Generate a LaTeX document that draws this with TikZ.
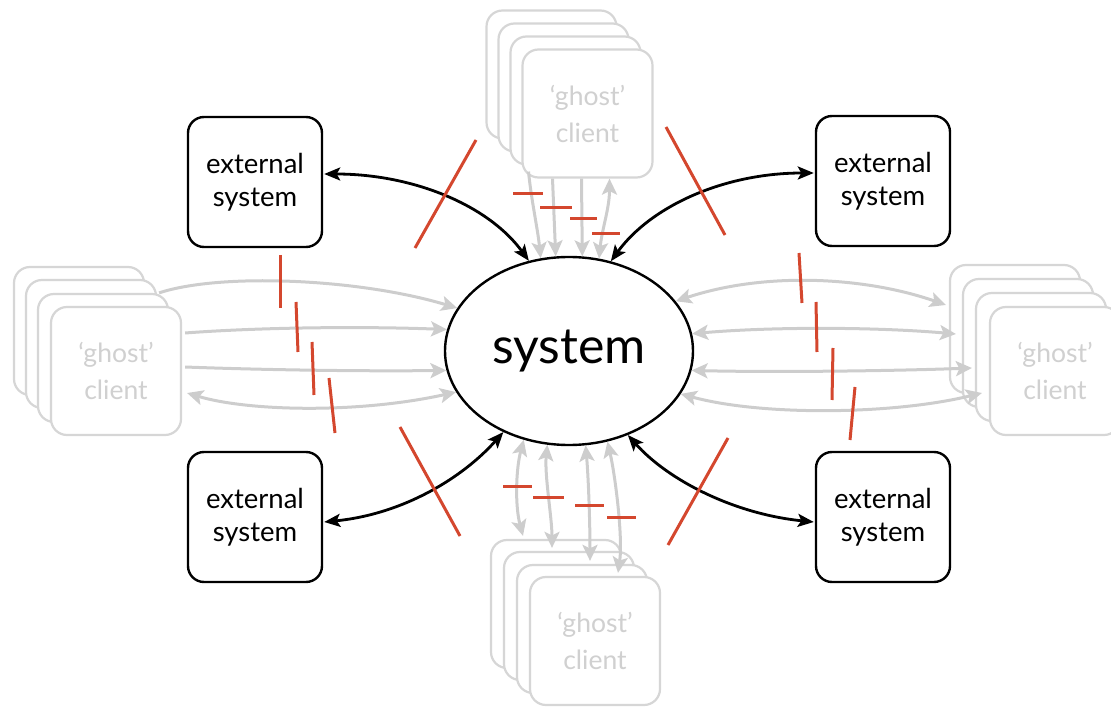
\documentclass[tikz,border=0pt]{standalone}
\usepackage{fontspec}
\newfontfamily\labelfont{Lato}
\usetikzlibrary{shapes.geometric,arrows.meta,calc}
\definecolor{ghostline}{HTML}{D6D6D6}
\definecolor{ghostarrow}{HTML}{CDCDCD}
\definecolor{ghosttext}{HTML}{D0D0D0}
\definecolor{cutred}{HTML}{D4472E}
\tikzset{
  gtip/.tip={Stealth[length=16pt,width=15pt,inset=3.5pt]},
  ktip/.tip={Stealth[length=16pt,width=13pt,inset=3.5pt]},
  ext/.style={draw=black,line width=2.4pt,rounded corners=16pt,fill=white,
    minimum width=134pt,minimum height=130pt,inner sep=0pt,align=center,
    font=\labelfont\fontsize{27.5}{33}\selectfont},
  ghostbox/.style={draw=ghostline,line width=2.2pt,rounded corners=16pt,fill=white,
    minimum width=130pt,minimum height=128pt,inner sep=0pt,align=center,
    text=ghosttext,font=\labelfont\fontsize{26.5}{37}\selectfont},
  sysnode/.style={ellipse,draw=black,line width=2.4pt,fill=white,
    minimum width=248pt,minimum height=188pt,inner sep=0pt,
    font=\labelfont\fontsize{50}{50}\selectfont},
  garrow/.style={draw=ghostarrow,line width=3pt,-gtip},
  gboth/.style={draw=ghostarrow,line width=3pt,gtip-gtip},
  karrow/.style={draw=black,line width=2.8pt,ktip-ktip},
  cut/.style={draw=cutred,line width=3pt}
}
\begin{document}
\begin{tikzpicture}[x=1pt,y=-1pt]
\useasboundingbox (0,0) rectangle (1111,708);

% ghost client stacks (back to front)
\node[ghostbox] (gT1) at (551.5,74.5) {};
\node[ghostbox] (gT2) at (563.5,87.5) {};
\node[ghostbox] (gT3) at (575.5,100.5) {};
\node[ghostbox] (gT4) at (587.5,113.5) {‘ghost’\\client};

\node[ghostbox] (gL1) at (79,331) {};
\node[ghostbox] (gL2) at (91,344) {};
\node[ghostbox] (gL3) at (103,358) {};
\node[ghostbox] (gL4) at (116,371) {‘ghost’\\client};

\node[ghostbox] (gR1) at (1015,329) {};
\node[ghostbox] (gR2) at (1028,343) {};
\node[ghostbox] (gR3) at (1041,357) {};
\node[ghostbox] (gR4) at (1055,371) {‘ghost’\\client};

\node[ghostbox] (gB1) at (556,604) {};
\node[ghostbox] (gB2) at (569,616) {};
\node[ghostbox] (gB3) at (582,629) {};
\node[ghostbox] (gB4) at (595,641) {‘ghost’\\client};

% external systems
\node[ext] (tl) at (255,182) {external\\system};
\node[ext] (tr) at (883,181) {external\\system};
\node[ext] (bl) at (255,517) {external\\system};
\node[ext] (br) at (883,517) {external\\system};

% the system
\node[sysnode] (sys) at (569,351) {system};

% ghost traffic from above
\draw[garrow] ($(gT4.south)+(-59,-7)$) .. controls +(3,30) and +(-3,-30) .. (sys.107.6);
\draw[garrow] ($(gT4.south)+(-35,0)$) -- (sys.98.4);
\draw[garrow] ($(gT4.south)+(-6,0)$) -- (sys.82.7);
\draw[gboth] ($(gT4.south)+(22,0)$) .. controls +(0,30) and +(3,-30) .. (sys.72);

% ghost traffic from the left
\draw[garrow] ($(gL3.north east)+(-10,0)$) .. controls +(60,-20) and +(-100,-30) .. (sys.159.7);
\draw[garrow] ($(gL4.east)+(3,-38)$) .. controls +(80,-6) and +(-80,-3) .. (sys.170.8);
\draw[garrow] ($(gL4.east)+(3,-4)$) .. controls +(80,3) and +(-80,1) .. (sys.189.5);
\draw[gboth] ($(gL4.east)+(5,22)$) .. controls +(60,18) and +(-100,22) .. (sys.200.3);

% ghost traffic to the right
\draw[gboth] (sys.25.9) .. controls +(90,-30) and +(-80,-28) .. ($(gR1.west)+(-3,-24)$);
\draw[gboth] (sys.8.4) .. controls +(80,-7) and +(-80,-7) .. ($(gR2.west)+(-6,-9)$);
\draw[gboth] (sys.-9.9) .. controls +(80,2) and +(-80,3) .. ($(gR3.west)+(-3,11)$);
\draw[gboth] (sys.-21.1) .. controls +(80,22) and +(-90,22) .. ($(gR4.west)+(-7,22)$);

% ghost traffic below
\draw[gboth] (sys.243.9) .. controls +(-8,30) and +(-8,-30) .. ($(gB1.north)+(-33,-3)$);
\draw[gboth] (sys.257.1) .. controls +(-3,30) and +(0,-30) .. ($(gB2.north)+(-17,-3)$);
\draw[gboth] (sys.280.6) .. controls +(3,35) and +(0,-35) .. ($(gB3.north)+(8,-3)$);
\draw[gboth] (sys.293.1) .. controls +(8,35) and +(5,-35) .. ($(gB4.north)+(23,-3)$);

% links to the external systems
\draw[karrow] ($(tl.east)+(1,-8)$) .. controls +(90,0) and +(-40,-55) .. (sys.114);
\draw[karrow] (sys.65) .. controls +(40,-55) and +(-90,0) .. ($(tr.west)+(-1,-8)$);
\draw[karrow] (sys.231.6) .. controls +(-40,45) and +(80,-8) .. ($(bl.east)+(1,5)$);
\draw[karrow] (sys.305) .. controls +(40,45) and +(-80,-8) .. ($(br.west)+(-1,5)$);

% cut marks
\draw[cut] (476,140) -- (415,248);
\draw[cut] (666,127) -- (725,235);
\draw[cut] (400,427) -- (460,536);
\draw[cut] (728,438) -- (668,545);

\draw[cut] (513,194) -- (543,194);
\draw[cut] (540,208) -- (572,208);
\draw[cut] (570,219) -- (597,219);
\draw[cut] (592,234) -- (620,234);

\draw[cut] (503,486) -- (532,486);
\draw[cut] (533,497) -- (564,497);
\draw[cut] (575,505) -- (604,505);
\draw[cut] (607,517) -- (636,517);

\draw[cut] (280,255) -- (280,308);
\draw[cut] (296,302) -- (298,352);
\draw[cut] (312,342) -- (314,395);
\draw[cut] (329,378) -- (335,433);

\draw[cut] (799,253) -- (802,303);
\draw[cut] (816,302) -- (817,352);
\draw[cut] (833,348) -- (832,400);
\draw[cut] (855,387) -- (850,440);
\end{tikzpicture}
\end{document}
